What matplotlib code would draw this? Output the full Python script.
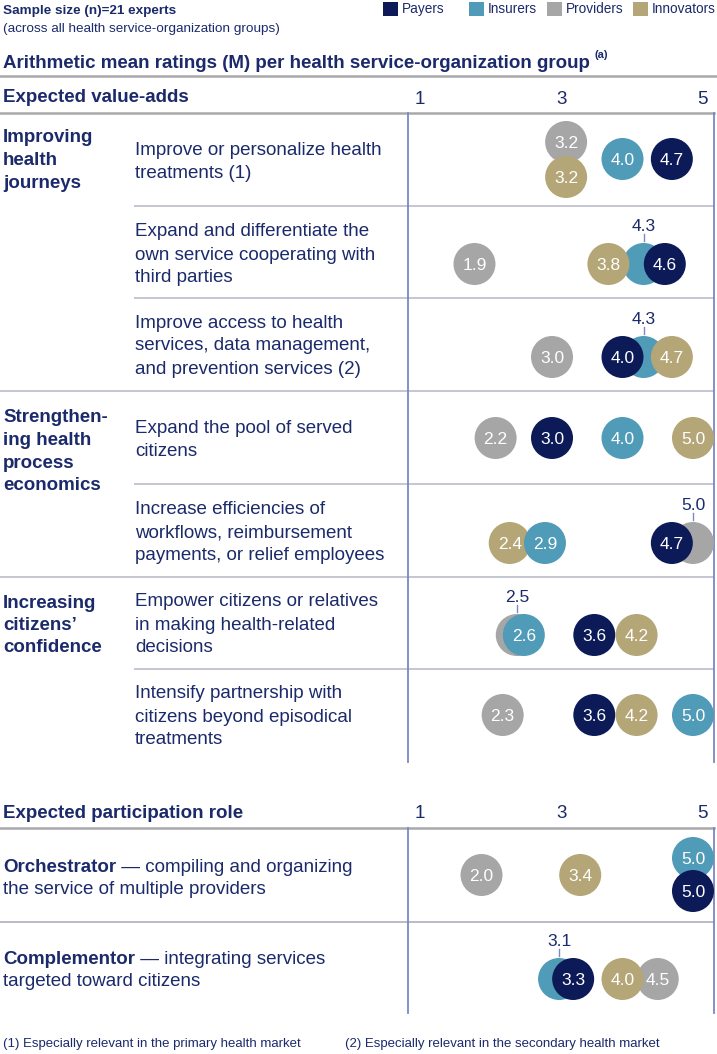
import matplotlib
matplotlib.use("Agg")
import matplotlib.pyplot as plt
from matplotlib.patches import Rectangle

plt.rcParams['font.family'] = ['Liberation Sans', 'DejaVu Sans']

# ---------------- data ----------------
groups = ["Payers", "Insurers", "Providers", "Innovators"]
colors = ["#0c1a57", "#4f9bb8", "#a6a6a6", "#b4a676"]

value_add_items = [
    "Improve or personalize health\ntreatments (1)",
    "Expand and differentiate the\nown service cooperating with\nthird parties",
    "Improve access to health\nservices, data management,\nand prevention services (2)",
    "Expand the pool of served\ncitizens",
    "Increase efficiencies of\nworkflows, reimbursement\npayments, or relief employees",
    "Empower citizens or relatives\nin making health-related\ndecisions",
    "Intensify partnership with\ncitizens beyond episodical\ntreatments",
]
value_add_groups = ["Improving\nhealth\njourneys",
                    "Strengthen-\ning health\nprocess\neconomics",
                    "Increasing\ncitizens’\nconfidence"]
# ratings per row: Payers, Insurers, Providers, Innovators
payers_va = [4.7, 4.6, 4.0, 3.0, 4.7, 3.6, 3.6]
insurers_va = [4.0, 4.3, 4.3, 4.0, 2.9, 2.6, 5.0]
providers_va = [3.2, 1.9, 3.0, 2.2, 5.0, 2.5, 2.3]
innovators_va = [3.2, 3.8, 4.7, 5.0, 2.4, 4.2, 4.2]

role_names = ["Orchestrator", "Complementor"]
role_desc = [" — compiling and organizing\nthe service of multiple providers",
             " — integrating services\ntargeted toward citizens"]
payers_role = [5.0, 3.3]
insurers_role = [5.0, 3.1]
providers_role = [2.0, 4.5]
innovators_role = [3.4, 4.0]

scale_ticks = [1, 3, 5]

# ---------------- layout ----------------
W, H = 717, 1054
NAVY = "#1b2a6b"
fig = plt.figure(figsize=(W / 100, H / 100), dpi=100)
ax = fig.add_axes([0, 0, 1, 1])
ax.set_xlim(0, W)
ax.set_ylim(H, 0)
ax.axis("off")

X_LINE, X_RIGHT = 408, 714
V_LEFT, V_RIGHT = 0.957, 5.298
bx = fig.add_axes([X_LINE / W, 0, (X_RIGHT - X_LINE) / W, 1])
bx.set_xlim(V_LEFT, V_RIGHT)
bx.set_ylim(H, 0)
bx.axis("off")
bx.patch.set_alpha(0)

FS = 13.5
BASE = 6.5  # offset from visual line centre to baseline (px)
S_BUB = (42 * 0.72) ** 2


def lines(x, yc, text, spacing=23, **kw):
    parts = text.split("\n")
    n = len(parts)
    for i, p in enumerate(parts):
        y = yc + (i - (n - 1) / 2) * spacing
        ax.text(x, y + BASE, p, va="baseline", ha="left", color=NAVY, **kw)


# header
ax.text(3, 11, "Sample size (n)=21 experts", fontsize=9.7, fontweight="bold",
        color=NAVY, va="center", ha="left")
ax.text(3, 29, "(across all health service-organization groups)", fontsize=9.7,
        color=NAVY, va="center", ha="left")
leg_x = [383, 469, 547, 633]
for lx, g, c in zip(leg_x, groups, colors):
    ax.add_patch(Rectangle((lx, 1.5), 14.5, 14.5, color=c, lw=0))
    ax.text(lx + 19, 9, g, fontsize=9.8, color=NAVY, va="center", ha="left")

t = ax.text(3, 62 + BASE, "Arithmetic mean ratings (M) per health service-organization group",
            fontsize=FS, fontweight="bold", color=NAVY, va="baseline", ha="left")
fig.canvas.draw()
bb = t.get_window_extent().transformed(ax.transData.inverted())
ax.text(bb.x1 + 5, 55, "(a)", fontsize=8, fontweight="bold", color=NAVY,
        va="center", ha="left")

ax.plot([0, W], [76, 76], color="#a9a9ad", lw=1.8)

# section 1 header
ax.text(3, 96 + BASE, "Expected value-adds", fontsize=FS, fontweight="bold", color=NAVY,
        va="baseline", ha="left")
for v in scale_ticks:
    bx.text(v + 0.13, 97 + BASE, str(v), fontsize=FS, color=NAVY, va="baseline", ha="center")
ax.plot([0, X_RIGHT], [113, 113], color="#a9a9ad", lw=1.8)

row_bounds = [113, 206, 298, 391, 484, 577, 669, 762]
text_y = [160, 253, 344, 438, 531, 623, 715]
bub_y = [159, 264, 357, 438, 543, 635, 715]
group_first_y = [136, 416, 601]

for i, txt in enumerate(value_add_items):
    lines(135, text_y[i], txt, fontsize=FS)
for gtxt, gy in zip(value_add_groups, group_first_y):
    n = len(gtxt.split("\n"))
    lines(3, gy + (n - 1) / 2 * 22.5, gtxt, spacing=22.5, fontsize=FS, fontweight="bold")

for k, yb in enumerate(row_bounds[1:-1], start=1):
    x0 = 0 if k in (3, 5) else 135
    ax.plot([x0, X_RIGHT], [yb, yb], color="#c4c6d2", lw=1.4)

ax.plot([X_LINE, X_LINE], [113, 762], color="#7b87c6", lw=1.3)
ax.plot([X_RIGHT, X_RIGHT], [113, 762], color="#7b87c6", lw=1.3)

# section 2 header
ax.text(3, 812 + BASE, "Expected participation role", fontsize=FS, fontweight="bold",
        color=NAVY, va="baseline", ha="left")
for v in scale_ticks:
    bx.text(v + 0.13, 811 + BASE, str(v), fontsize=FS, color=NAVY, va="baseline", ha="center")
ax.plot([0, X_RIGHT], [828, 828], color="#a9a9ad", lw=1.8)
ax.plot([0, X_RIGHT], [922, 922], color="#b9bbc6", lw=1.4)
ax.plot([X_LINE, X_LINE], [828, 1013], color="#7b87c6", lw=1.3)
ax.plot([X_RIGHT, X_RIGHT], [828, 1013], color="#7b87c6", lw=1.3)

role_line1_y = [865, 957]
for name, desc, y1 in zip(role_names, role_desc, role_line1_y):
    tn = ax.text(3, y1 + BASE, name, fontsize=FS, fontweight="bold", color=NAVY,
                 va="baseline", ha="left")
    fig.canvas.draw()
    nb = tn.get_window_extent().transformed(ax.transData.inverted())
    d1, d2 = desc.split("\n")
    ax.text(nb.x1, y1 + BASE, d1, fontsize=FS, color=NAVY, va="baseline", ha="left")
    ax.text(3, y1 + 22 + BASE, d2, fontsize=FS, color=NAVY, va="baseline", ha="left")

# footer
ax.text(3, 1044, "(1) Especially relevant in the primary health market", fontsize=9.5,
        color=NAVY, va="center", ha="left")
ax.text(345, 1044, "(2) Especially relevant in the secondary health market", fontsize=9.5,
        color=NAVY, va="center", ha="left")

# ---------------- bubbles ----------------
va_vals = list(zip(payers_va, insurers_va, providers_va, innovators_va))
role_vals = list(zip(payers_role, insurers_role, providers_role, innovators_role))

# drawing order (indices into groups), vertical offsets, externally labelled bubble
va_order = [[2, 3, 1, 0], [1, 3, 0, 2], [1, 0, 3, 2], [0, 1, 2, 3],
            [3, 1, 2, 0], [2, 1, 0, 3], [0, 1, 2, 3]]
va_dy = [{2: -17, 3: 18}, {}, {}, {}, {}, {}, {}]
va_ext = [None, 1, 1, None, 2, 2, None]

role_y = [875, 979]
role_order = [[2, 3, 1, 0], [1, 0, 2, 3]]
role_dy = [{1: -17, 0: 16}, {}]
role_ext = [None, 1]


def draw_row(vals, yc, order, dy, ext):
    z = 3
    for gi in order:
        v = vals[gi]
        y = yc + dy.get(gi, 0)
        bx.scatter([v], [y], s=S_BUB, color=colors[gi], edgecolors="none", zorder=z)
        if gi != ext:
            bx.text(v, y + 6, f"{v:.1f}", fontsize=12.5, color="white", ha="center",
                    va="baseline", zorder=z + 0.5)
        z += 1
    if ext is not None:
        v = vals[ext]
        bx.text(v, yc - 39 + 6, f"{v:.1f}", fontsize=12.5, color=NAVY, ha="center",
                va="baseline", zorder=z)
        bx.plot([v, v], [yc - 30, yc - 23], color="#7b87c6", lw=1, zorder=z)


for i in range(len(va_vals)):
    draw_row(va_vals[i], bub_y[i], va_order[i], va_dy[i], va_ext[i])
for i in range(len(role_vals)):
    draw_row(role_vals[i], role_y[i], role_order[i], role_dy[i], role_ext[i])

fig.savefig("out.png", dpi=100)
